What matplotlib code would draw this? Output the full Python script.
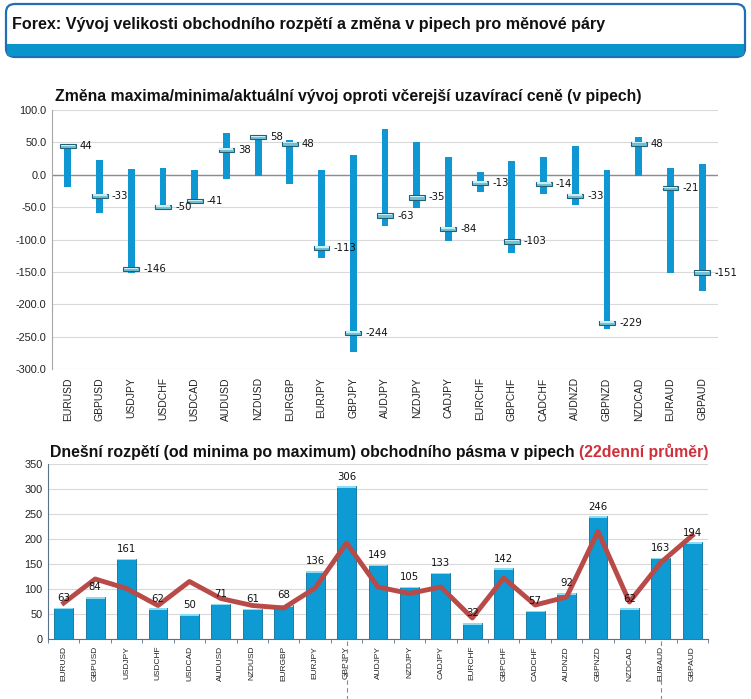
import matplotlib
matplotlib.use("Agg")
import matplotlib.pyplot as plt
from matplotlib.patches import FancyBboxPatch, Rectangle
from matplotlib.lines import Line2D
from matplotlib import font_manager
import numpy as np

pairs = ["EURUSD", "GBPUSD", "USDJPY", "USDCHF", "USDCAD", "AUDUSD", "NZDUSD",
         "EURGBP", "EURJPY", "GBPJPY", "AUDJPY", "NZDJPY", "CADJPY", "EURCHF",
         "GBPCHF", "CADCHF", "AUDNZD", "GBPNZD", "NZDCAD", "EURAUD", "GBPAUD"]
high_chg = [44, 23, 9, 11, 7, 64, 59, 53, 7, 31, 70, 51, 28, 4, 21, 27, 45, 7, 59, 11, 16]
low_chg = [-19, -59, -152, -52, -45, -7, -2, -15, -129, -274, -79, -52, -102, -27,
           -121, -30, -47, -238, -2, -151, -179]
close_chg = [44, -33, -146, -50, -41, 38, 58, 48, -113, -244, -63, -35, -84, -13,
             -103, -14, -33, -229, 48, -21, -151]
range_today = [63, 84, 161, 62, 50, 71, 61, 68, 136, 306, 149, 105, 133, 32, 142,
               57, 92, 246, 62, 163, 194]
avg22 = [72, 120, 101, 67, 115, 81, 67, 62, 102, 192, 104, 91, 104, 42, 122, 68,
         84, 215, 74, 153, 207]

W, H = 751, 699
fig = plt.figure(figsize=(W / 100, H / 100), dpi=100)
fig.patch.set_facecolor("white")
plt.rcParams['font.family'] = ['Liberation Sans', 'DejaVu Sans']

installed = {f.name for f in font_manager.fontManager.ttflist}
has_narrow = 'Liberation Sans Narrow' in installed


def fx(px):
    return px / W


def fy(py):
    return 1 - py / H


# ---- title box ----
box = FancyBboxPatch((fx(6), fy(57)), fx(739), (57 - 4) / H,
                     boxstyle="round,pad=0,rounding_size=0.012",
                     transform=fig.transFigure, facecolor="white",
                     edgecolor="#1f6fb5", linewidth=1.6, zorder=1)
fig.patches.append(box)
band = Rectangle((fx(7), fy(56)), fx(737), 12 / H, transform=fig.transFigure,
                 facecolor="#0995cc", edgecolor="none", zorder=2)
fig.patches.append(band)
if has_narrow:
    fig.text(fx(12), fy(25), "Forex: Vývoj velikosti obchodního rozpětí a změna v pipech pro měnové páry",
             fontsize=14, fontweight="bold", family=['Liberation Sans Narrow', 'DejaVu Sans'],
             va="center", ha="left", color="#111111")
else:
    fig.text(fx(12), fy(25), "Forex: Vývoj velikosti obchodního rozpětí a změna v pipech pro měnové páry",
             fontsize=11.6, fontweight="bold", va="center", ha="left", color="#111111")

x = np.arange(len(pairs))

# ---- top chart ----
ax1 = fig.add_axes([fx(52), fy(369), fx(718 - 52), (369 - 110) / H])
ax1.set_xlim(-0.5, len(pairs) - 0.5)
ax1.set_ylim(-300, 100)
ax1.set_yticks(np.arange(-300, 101, 50))
ax1.set_yticklabels([f"{v:.1f}" for v in np.arange(-300, 101, 50)], fontsize=7.8)
ax1.grid(axis="y", color="#d9d9d9", linewidth=0.8)
ax1.axhline(0, color="#8c8c8c", linewidth=1.0, zorder=1)
ax1.set_axisbelow(True)
for s in ["top", "right"]:
    ax1.spines[s].set_visible(False)
ax1.spines["bottom"].set_visible(False)
ax1.spines["left"].set_color("#a6a6a6")
ax1.tick_params(axis="y", length=0, pad=4, colors="#222222")
ax1.tick_params(axis="x", length=0, pad=6)
ax1.set_xticks(x)
ax1.set_xticklabels(pairs, rotation=90, fontsize=7.5, color="#222222")

hi = np.array(high_chg)
lo = np.array(low_chg)
ax1.bar(x, hi - lo, bottom=lo, width=0.22, color="#0e97d2", zorder=2)
mh = 6.5
ax1.bar(x, mh, bottom=np.array(close_chg) - mh / 2, width=0.5, color="#6fc2d8",
        edgecolor="#245f73", linewidth=0.8, zorder=3)
ax1.bar(x, mh * 0.35, bottom=np.array(close_chg) + mh * 0.05, width=0.44,
        color="#c9eef5", edgecolor="none", zorder=4)
for xi, c in zip(x, close_chg):
    ax1.text(xi + 0.38, c, f"{c}", fontsize=7.3, family="DejaVu Sans",
             va="center", ha="left", color="#111111", zorder=5)

fig.text(fx(55), fy(97), "Změna maxima/minima/aktuální vývoj oproti včerejší uzavírací ceně (v pipech)",
         fontsize=11.3, fontweight="bold", va="center", ha="left", color="#111111")

# ---- bottom chart ----
ax2 = fig.add_axes([fx(48), fy(639), fx(708 - 48), (639 - 464) / H])
ax2.set_xlim(-0.5, len(pairs) - 0.5)
ax2.set_ylim(0, 350)
ax2.set_yticks(np.arange(0, 351, 50))
ax2.tick_params(axis="y", labelsize=7.8, length=0, pad=4, colors="#222222")
ax2.grid(axis="y", color="#d9d9d9", linewidth=0.8)
ax2.set_axisbelow(True)
for s in ["top", "right"]:
    ax2.spines[s].set_visible(False)
ax2.spines["left"].set_color("#5a6f8a")
ax2.spines["bottom"].set_color("#5a6f8a")
ax2.set_xticks(x)
if has_narrow:
    ax2.set_xticklabels(pairs, rotation=90, fontsize=7, color="#222222",
                        family=['Liberation Sans Narrow', 'DejaVu Sans'])
else:
    ax2.set_xticklabels(pairs, rotation=90, fontsize=6, color="#222222")
ax2.set_xticks(np.arange(-0.5, len(pairs), 1), minor=True)
ax2.tick_params(axis="x", which="major", length=0, pad=5)
ax2.tick_params(axis="x", which="minor", length=3, color="#5a6f8a")

ax2.bar(x, range_today, width=0.6, color="#0e9ad3", edgecolor="#0a6f9a",
        linewidth=0.6, zorder=2)
ax2.bar(x, 3, bottom=np.array(range_today) - 3, width=0.6, color="#8fdcf2",
        edgecolor="none", zorder=3)
ax2.plot(x, avg22, color="#b84a48", linewidth=3.5, zorder=4, solid_joinstyle="round")
for xi, v in zip(x, range_today):
    ax2.text(xi, v + 9, f"{v}", fontsize=7.3, family="DejaVu Sans", ha="center",
             va="bottom", color="#111111", zorder=5)

t1 = fig.text(fx(50), fy(452), "Dnešní rozpětí (od minima po maximum) obchodního pásma v pipech ",
              fontsize=11.4, fontweight="bold", va="center", ha="left", color="#111111")
fig.canvas.draw()
bb = t1.get_window_extent()
fig.text(bb.x1 / W, fy(452), "(22denní průměr)", fontsize=11.4, fontweight="bold",
         va="center", ha="left", color="#d0303c")

# dashed guide artefacts below the lower axis
for xp in (346.5, 661):
    fig.lines.append(Line2D([fx(xp), fx(xp)], [fy(641), fy(699)], transform=fig.transFigure,
                            color="#8a8a8a", linewidth=0.8, linestyle=(0, (4, 3))))

fig.savefig("out.png", dpi=100)
